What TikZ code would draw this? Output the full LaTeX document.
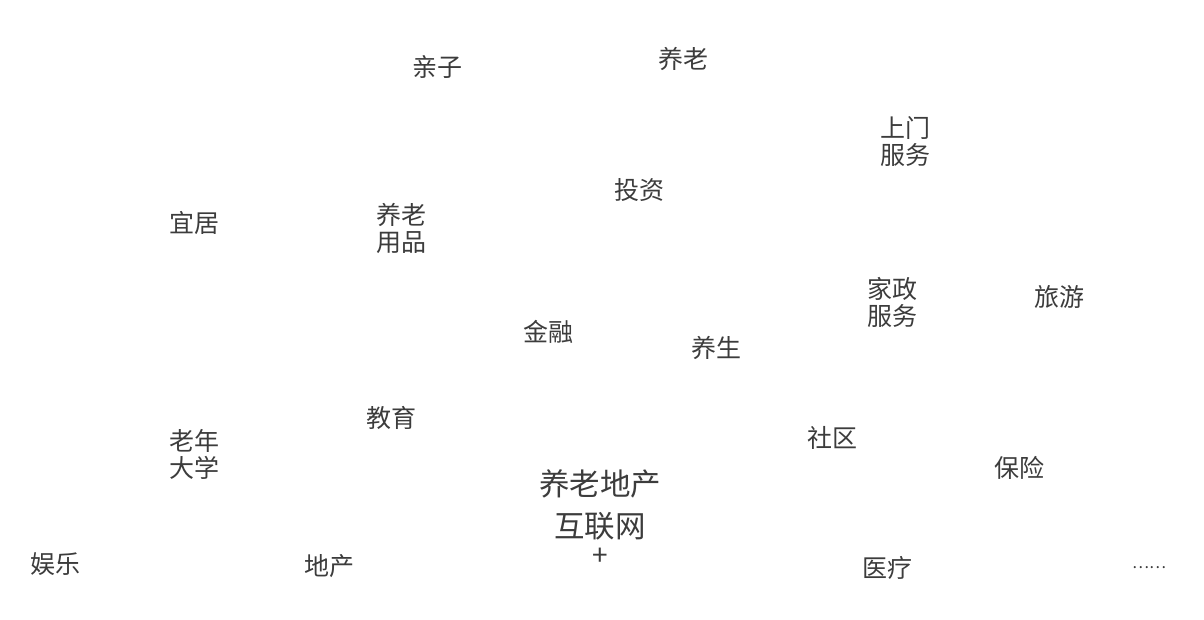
\documentclass[tikz,border=0pt]{standalone}
\usepackage{fontspec}
\newfontfamily\cjk{Noto Sans CJK SC}
\definecolor{txt}{HTML}{3C3C3C}
\tikzset{
  lbl/.style={inner sep=0pt, text=txt, align=center, font=\cjk\fontsize{25}{27}\selectfont},
  big/.style={inner sep=0pt, text=txt, align=center, font=\cjk\fontsize{30.5}{42}\selectfont}
}
\begin{document}
\begin{tikzpicture}[x=1pt,y=-1pt]
\useasboundingbox (0,0) rectangle (1204,620);
\node[lbl] (qinzi) at (437,67) {亲子};
\node[lbl] (yanglao) at (683,59) {养老};
\node[lbl] (shangmen) at (905,142) {上门\\服务};
\node[lbl] (touzi) at (639,190) {投资};
\node[lbl] (yiju) at (194,223) {宜居};
\node[lbl] (yongpin) at (401,228) {养老\\用品};
\node[lbl] (jiazheng) at (892,302) {家政\\服务};
\node[lbl] (lvyou) at (1059,297) {旅游};
\node[lbl] (jinrong) at (548,332) {金融};
\node[lbl] (yangsheng) at (716,348) {养生};
\node[lbl] (jiaoyu) at (391,418) {教育};
\node[lbl] (daxue) at (194,454) {老年\\大学};
\node[lbl] (shequ) at (832,438) {社区};
\node[lbl] (baoxian) at (1019,468) {保险};
\node[big] (center) at (600,505) {养老地产\\互联网};
\node[inner sep=0pt, text=txt, font=\cjk\fontsize{28}{28}\selectfont] (plus) at (600,557) {+};
\node[lbl] (yule) at (55,564) {娱乐};
\node[lbl] (dichan) at (329,566) {地产};
\node[lbl] (yiliao) at (887,568) {医疗};
\node[inner sep=0pt, text=txt, font=\cjk\fontsize{16}{16}\selectfont] (more) at (1149,568) {……};
\end{tikzpicture}
\end{document}
